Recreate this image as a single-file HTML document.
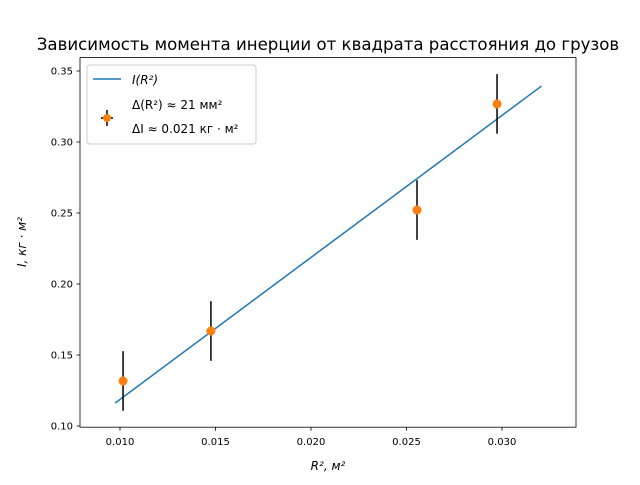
<!DOCTYPE html>
<html><head><meta charset="utf-8"><style>
body{margin:0;background:#fff;}
svg text{font-family:"DejaVu Sans","Liberation Sans",sans-serif;}
</style></head><body>
<svg id="chart" width="640" height="480" xmlns="http://www.w3.org/2000/svg">
<rect width="640" height="480" fill="#fff"/>
<text x="328" y="50" font-size="16.6" text-anchor="middle">Зависимость момента инерции от квадрата расстояния до грузов</text>
<g id="ticks"></g>
<g id="marks"></g>
<rect x="80" y="57.6" width="496" height="369.6" fill="none" stroke="#000" stroke-width="0.8"/>
<text x="328" y="470" font-size="12" text-anchor="middle" font-style="italic">R², м²</text>
<text transform="translate(26,242) rotate(-90)" font-size="12" text-anchor="middle" font-style="italic">I, кг · м²</text>
<g>
<rect x="87" y="65" width="169" height="79" rx="3" fill="#fff" fill-opacity="0.8" stroke="#ccc"/>
<line x1="93" y1="79" x2="121" y2="79" stroke="#1f77b4" stroke-width="1.5"/>
<text x="132" y="84" font-size="12" font-style="italic">I(R²)</text>
<line x1="107" y1="110" x2="107" y2="126" stroke="#000" stroke-width="1.5"/>
<line x1="101" y1="118" x2="113" y2="118" stroke="#000" stroke-width="1.5"/>
<circle cx="107" cy="118" r="4" fill="#ff7f0e"/>
<text x="132" y="109" font-size="12">Δ(R²) ≈ 21 мм²</text>
<text x="132" y="133" font-size="12">ΔI ≈ 0.021 кг · м²</text>
</g>
</svg>
<script>
const xTicks=[0.010,0.015,0.020,0.025,0.030];
const xTickLabels=["0.010","0.015","0.020","0.025","0.030"];
const yTicks=[0.10,0.15,0.20,0.25,0.30,0.35];
const yTickLabels=["0.10","0.15","0.20","0.25","0.30","0.35"];
const pointsX=[0.01016,0.01476,0.02555,0.02974];
const pointsY=[0.1317,0.1669,0.2521,0.3268];
const errY=[0.021,0.021,0.021,0.021];
const lineX=[0.00975,0.03207];
const lineY=[0.1162,0.3394];
function sx(v){return 120+(v-0.010)*19100;}
function sy(v){return 426-(v-0.10)*1420;}
const NS="http://www.w3.org/2000/svg";
function mk(t,a,p){const e=document.createElementNS(NS,t);for(const k in a)e.setAttribute(k,a[k]);p.appendChild(e);return e;}
const tg=document.getElementById('ticks'),mg=document.getElementById('marks');
xTicks.forEach((v,i)=>{const x=sx(v);
const l=mk('line',{x1:x,x2:x,y1:427.2,y2:430.7,stroke:'#000','stroke-width':0.8},tg);


const t=mk('text',{x:x,y:445,'font-size':10,'text-anchor':'middle'},tg);t.textContent=xTickLabels[i];

});
yTicks.forEach((v,i)=>{const y=sy(v);
const l=mk('line',{x1:76.5,x2:80,y1:y,y2:y,stroke:'#000','stroke-width':0.8},tg);


const t=mk('text',{x:73,y:y+3.5,'font-size':10,'text-anchor':'end'},tg);t.textContent=yTickLabels[i];

});
const fl=mk('line',{x1:sx(lineX[0]),y1:sy(lineY[0]),x2:sx(lineX[1]),y2:sy(lineY[1]),stroke:'#1f77b4','stroke-width':1.5},mg);


pointsX.forEach((v,i)=>{const x=sx(v),y=sy(pointsY[i]);
const e=mk('line',{x1:x,x2:x,y1:sy(pointsY[i]-errY[i]),y2:sy(pointsY[i]+errY[i]),stroke:'#000','stroke-width':1.5},mg);


const c=mk('circle',{cx:x,cy:y,r:4.5,fill:'#ff7f0e'},mg);

});
</script>
</body></html>
